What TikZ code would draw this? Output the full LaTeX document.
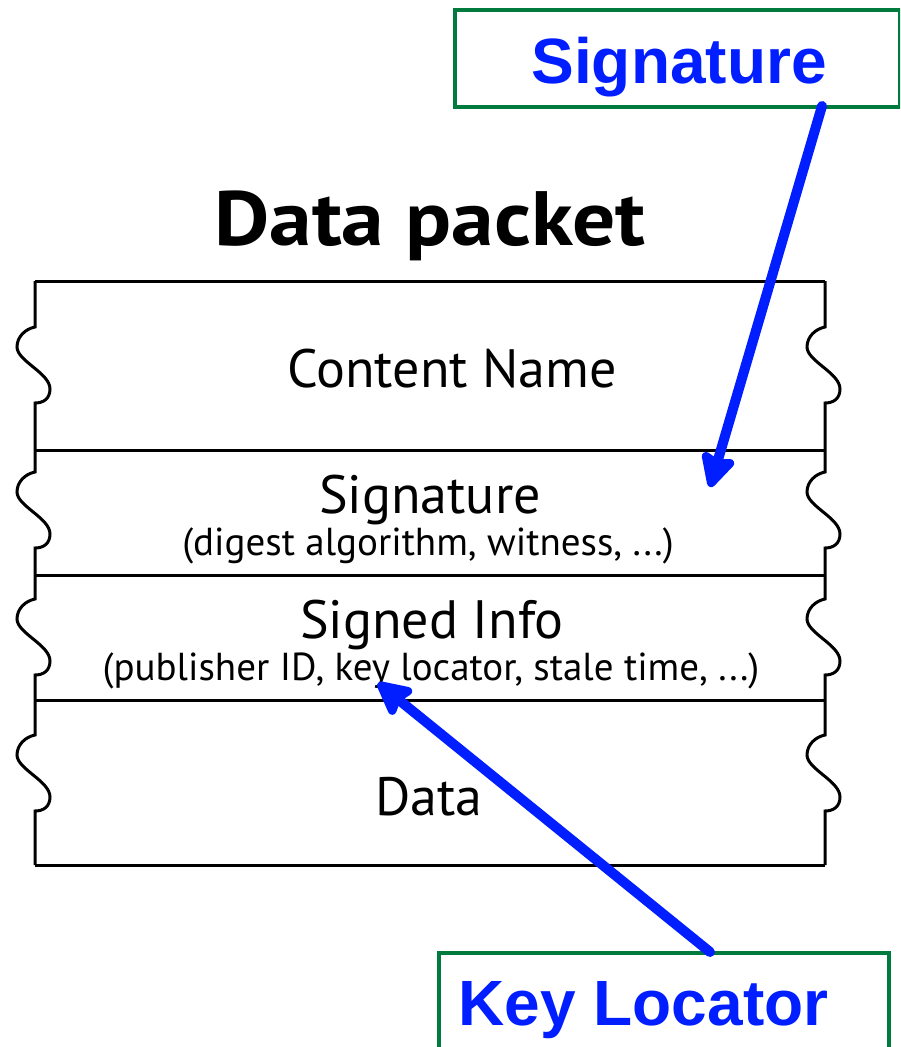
\documentclass[tikz,border=0pt]{standalone}
\usepackage{fontspec}
\setmainfont{PT Sans}
\newfontfamily\titlefont[FakeStretch=1.11]{PT Sans}
\newfontfamily\arialfont{Liberation Sans}
\usetikzlibrary{arrows.meta}
\definecolor{callgreen}{RGB}{0,122,61}
\definecolor{callblue}{RGB}{0,30,255}
\newcommand\pktwave[2]{-- (#1,#2-38) .. controls (#1-10,#2-36) and (#1-18,#2-28) .. (#1-18,#2-18) .. controls (#1-18,#2-4) and (#1+15,#2+8) .. (#1+15,#2+24) .. controls (#1+15,#2+34) and (#1+8,#2+38) .. (#1,#2+38)}
\begin{document}
\begin{tikzpicture}[x=1pt,y=-1pt,
  pline/.style={line width=3pt, draw=black},
  calloutbox/.style={draw=callgreen, line width=4pt, fill=white, inner sep=0pt, anchor=north west},
  callouttext/.style={text=callblue, font=\arialfont\bfseries\fontsize{64}{64}\selectfont, anchor=base, inner sep=0pt},
  titletext/.style={font=\titlefont\bfseries\fontsize{77}{77}\selectfont, anchor=base, inner sep=0pt},
  fieldtitle/.style={font=\fontsize{54}{54}\selectfont, anchor=base, inner sep=0pt},
  fieldsub/.style={font=\fontsize{39}{39}\selectfont, anchor=base, inner sep=0pt},
  pointer/.style={draw=callblue, line width=10pt, line cap=round, -{Stealth[length=40pt,width=40pt,inset=6pt,round]}},
]
\useasboundingbox (0,0) rectangle (900,1047);
\clip (0,0) rectangle (900,1047);

% packet outline
\draw[pline] (35,281) \pktwave{35}{365} -- (35,450) \pktwave{35}{510} -- (35,575) \pktwave{35}{637} -- (35,700) \pktwave{35}{773} -- (35,865);
\draw[pline] (825,281) \pktwave{825}{365} -- (825,450) \pktwave{825}{510} -- (825,575) \pktwave{825}{637} -- (825,700) \pktwave{825}{773} -- (825,865);
\draw[pline] (35,281) -- (825,281);
\draw[pline] (35,450) -- (825,450);
\draw[pline] (35,575) -- (825,575);
\draw[pline] (35,700) -- (825,700);
\draw[pline] (35,865) -- (825,865);

% texts
\node[titletext] (title) at (430,245) {Data packet};
\node[fieldtitle] (cname) at (452,387) {Content Name};
\node[fieldtitle] (sig) at (430,513) {Signature};
\node[fieldsub] (sigsub) at (428,555) {(digest algorithm, witness, ...)};
\node[fieldtitle] (sinfo) at (432,638) {Signed Info};
\node[fieldsub] (sinfosub) at (431,680) {(publisher ID, key locator, stale time, ...)};
\node[fieldtitle] (data) at (429,815) {Data};

% callouts
\node[calloutbox, minimum width=445pt, minimum height=97pt] (sigbox) at (453,8) {};
\node[callouttext] (sigboxtext) at (679,83) {Signature};
\node[calloutbox, minimum width=450pt, minimum height=130pt] (keybox) at (437,951) {};
\node[callouttext] (keyboxtext) at (643.5,1025) {Key Locator};

\coordinate (sigstart) at (822,106);
\coordinate (sigtip) at (710,487);
\coordinate (keystart) at (710,952);
\coordinate (keytip) at (378,683);
\draw[pointer] (sigstart) -- (sigtip);
\draw[pointer] (keystart) -- (keytip);
\end{tikzpicture}
\end{document}
